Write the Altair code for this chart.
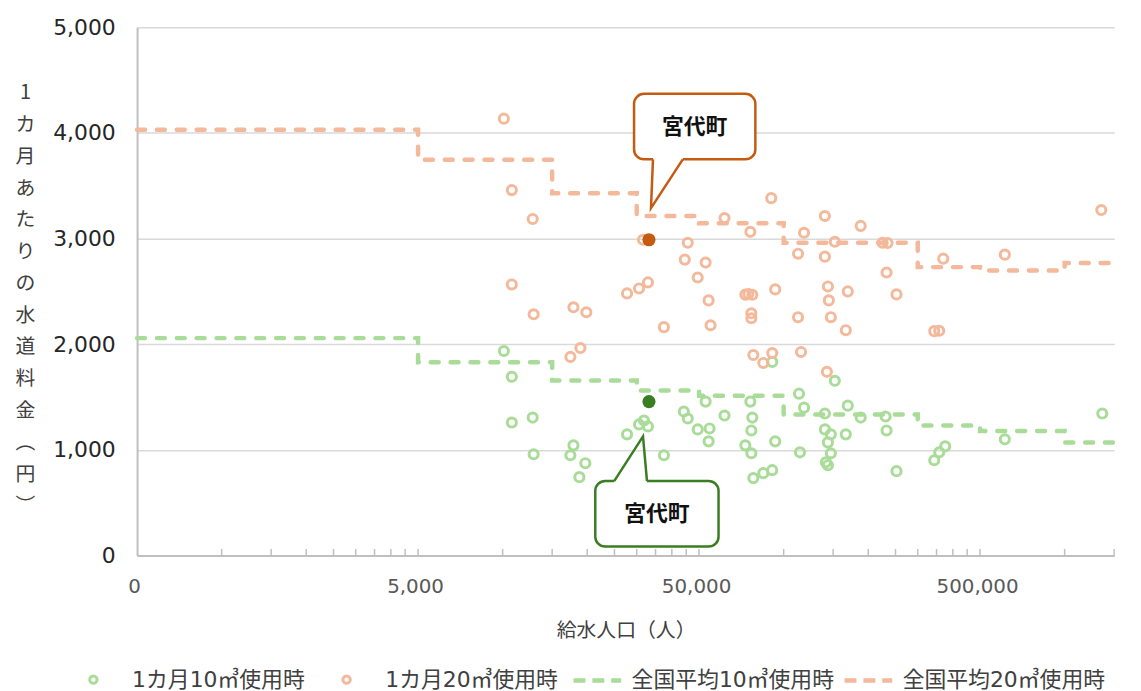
import altair as alt
import pandas as pd

# ---- data ----
S10 = "1カ月10㎥使用時"
S20 = "1カ月20㎥使用時"
A10 = "全国平均10㎥使用時"
A20 = "全国平均20㎥使用時"

pop10 = [10100, 10780, 10780, 12790, 12890, 17860, 17420, 19690, 18750, 27710,
         30570, 31840, 32890, 37480, 44120, 45580, 49440, 52760, 54500, 54070,
         61600, 76110, 77360, 76740, 93300, 73060, 76740, 78000, 84630, 91060,
         91060, 152100, 113400, 118200, 169100, 140200, 188000, 230500, 232400, 140200,
         147200, 166400, 143700, 147200, 141400, 143700, 114300, 252100, 343500, 357800,
         375700, 612500, 1361000]
fee10 = [1936, 1692, 1259, 1306, 959, 1043, 949, 874, 742, 1147,
         1241, 1278, 1222, 949, 1363, 1297, 1194, 1457, 1203, 1081,
         1325, 1457, 1306, 1184, 1081, 1043, 968, 733, 780, 808,
         1833, 1654, 1532, 1400, 1419, 1344, 1306, 1316, 1184, 1194,
         1147, 1147, 1071, 968, 883, 855, 977, 799, 902, 977,
         1034, 1100, 1344]

pop20 = [10100, 10780, 12790, 10780, 12890, 17860, 19850, 17420, 18910, 27710,
         30570, 32890, 31580, 37480, 45580, 44480, 52760, 49440, 54070, 54940,
         61600, 76110, 90320, 73060, 74880, 77360, 76740, 76740, 93300, 78000,
         84630, 91060, 112500, 112500, 115300, 118200, 140200, 140200, 143700, 144800,
         147200, 166400, 169100, 142500, 152100, 188000, 224900, 234300, 232400, 252100,
         369700, 343500, 357800, 612500, 1350000]
fee20 = [4135, 3459, 3186, 2566, 2284, 2350, 2303, 1880, 1964, 2481,
         2528, 2585, 2989, 2162, 2961, 2801, 2773, 2632, 2415, 2180,
         3195, 3064, 3383, 2470, 2475, 2468, 2293, 2246, 2519, 1898,
         1823, 1917, 2857, 2256, 1927, 3055, 3214, 2829, 2547, 2415,
         2256, 2133, 2500, 1739, 2970, 3120, 2961, 2958, 2679, 2472,
         2810, 2124, 2128, 2848, 3271]

# national average by supply-population class (step lines)
class_bounds = [500, 5000, 15000, 30000, 50000, 100000, 300000, 500000, 1000000, 1500000]
avg10 = [2058, 1830, 1657, 1563, 1513, 1335, 1231, 1178, 1069, 1069]
avg20 = [4030, 3747, 3430, 3214, 3145, 2960, 2730, 2697, 2770, 2770]

# 宮代町
miyashiro_pop = 33160
miyashiro_fee10 = 1457
miyashiro_fee20 = 2989
town_name = "宮代町"

# callout anchors (data units): box x1, x2, y1, y2 ; pointer base-left, tip, base-right
orange_box = [29350, 79300, 3750, 4370]
orange_ptr_pop = [34270, 33720, 43750]
orange_ptr_fee = [3750, 3289, 3750]
orange_text = [48240, 4060]
green_box = [21360, 58650, 85, 705]
green_ptr_pop = [24940, 31580, 32630]
green_ptr_fee = [705, 1128, 705]
green_text = [35400, 390]

x_ticks = [500, 5000, 50000, 500000]
minor_ticks = [1000, 1500, 2000, 2500, 3000, 3500, 4000, 4500, 5000,
               10000, 15000, 20000, 25000, 30000, 35000, 40000, 45000, 50000,
               100000, 150000, 200000, 250000, 300000, 350000, 400000, 450000, 500000,
               1000000, 1500000]
y_ticks = [0, 1000, 2000, 3000, 4000, 5000]
y_title = list("1カ月あたりの水道料金") + ["︵", "円", "︶"]

# ---- styles ----
GREEN = "#a9dc98"
ORANGE = "#f4b89b"
DARK_GREEN = "#3a7d22"
DARK_ORANGE = "#c55a11"
JP = "Noto Sans CJK JP"
NUM = "DejaVu Sans"
MIX = "DejaVu Sans, Noto Sans CJK JP"

pts = pd.DataFrame({
    "pop": pop10 + pop20,
    "fee": fee10 + fee20,
    "series": [S10] * len(pop10) + [S20] * len(pop20),
})
avg = pd.DataFrame({
    "pop": class_bounds + class_bounds,
    "fee": avg10 + avg20,
    "series": [A10] * len(class_bounds) + [A20] * len(class_bounds),
})
hl = pd.DataFrame({"pop": [miyashiro_pop, miyashiro_pop],
                   "fee": [miyashiro_fee10, miyashiro_fee20],
                   "k": ["g", "o"]})
ticks_df = pd.DataFrame({"pop": minor_ticks, "fee": [0] * len(minor_ticks), "fee2": [62] * len(minor_ticks)})

xscale = alt.Scale(type="log", domain=[500, 1500000], nice=False)
yscale = alt.Scale(domain=[0, 5000], nice=False, zero=True)

xaxis = alt.Axis(
    values=x_ticks,
    labelExpr="datum.value == 500 ? '0' : format(datum.value, ',')",
    title="給水人口（人）", ticks=False, grid=False,
    domainColor="#bfbfbf", domainWidth=2,
    labelFont=NUM, labelFontSize=20, labelColor="#595959", labelPadding=21,
    labelFlush=False, labelOverlap=False, labelOffset=-3,
    titleFont=JP, titleFontSize=20, titleFontWeight="normal", titleColor="#404040",
    titleY=76, titleBaseline="middle",
)
yaxis = alt.Axis(
    values=y_ticks, labelExpr="format(datum.value, ',')", ticks=False, grid=True,
    gridColor="#d9d9d9", gridWidth=1.5,
    domainColor="#bfbfbf", domainWidth=2,
    labelFont=NUM, labelFontSize=22, labelColor="#262626", labelPadding=22,
    title=y_title, titleAngle=0, titleX=-113, titleY=56, titleAlign="center",
    titleBaseline="top", titleLineHeight=32, titleFont=JP, titleFontSize=20,
    titleFontWeight="normal", titleColor="#404040",
)


def X(field):
    return alt.X(f"{field}:Q", scale=xscale, axis=xaxis)


def Y(field):
    return alt.Y(f"{field}:Q", scale=yscale, axis=yaxis)


lines = alt.Chart(avg).mark_line(
    interpolate="step-after", strokeWidth=4.5, strokeDash=[8, 12], strokeCap="round"
).encode(
    x=X("pop"), y=Y("fee"),
    color=alt.Color("series:N",
                    scale=alt.Scale(domain=[A10, A20], range=[GREEN, ORANGE]),
                    legend=alt.Legend(title=None, orient="none", legendX=437, legendY=631,
                                      direction="horizontal", symbolType="stroke",
                                      symbolSize=2304, symbolStrokeWidth=4.5,
                                      symbolDash=[12, 7], labelOffset=8, columnPadding=1,
                                      labelLimit=0,
                                      labelFont=MIX, labelFontSize=22, labelColor="#404040")),
    detail="series:N",
)

points = alt.Chart(pts).mark_point(
    shape="circle", filled=False, size=85, strokeWidth=3, opacity=1
).encode(
    x=X("pop"), y=Y("fee"),
    color=alt.Color("series:N",
                    scale=alt.Scale(domain=[S10, S20], range=[GREEN, ORANGE]),
                    legend=alt.Legend(title=None, orient="none", legendX=-55, legendY=646,
                                      direction="horizontal", symbolType="circle",
                                      symbolSize=55, symbolStrokeWidth=3,
                                      labelOffset=28, columnPadding=31, labelLimit=0,
                                      labelFont=MIX, labelFontSize=22, labelColor="#404040")),
)

hl_g = alt.Chart(hl[hl.k == "g"]).mark_circle(size=175, opacity=1, color=DARK_GREEN).encode(
    x=X("pop"), y=Y("fee"))
hl_o = alt.Chart(hl[hl.k == "o"]).mark_circle(size=175, opacity=1, color=DARK_ORANGE).encode(
    x=X("pop"), y=Y("fee"))

minor = alt.Chart(ticks_df).mark_rule(color="#bfbfbf", strokeWidth=1.5).encode(
    x=X("pop"), y=Y("fee"), y2="fee2")


def callout(box, ptr_pop, ptr_fee, txt, col):
    bdf = pd.DataFrame({"pop": [box[0]], "pop2": [box[1]], "fee": [box[2]], "fee2": [box[3]]})
    rect = alt.Chart(bdf).mark_rect(fill="white", stroke=col, strokeWidth=2.5,
                                    cornerRadius=10).encode(
        x=X("pop"), x2="pop2", y=Y("fee"), y2="fee2")
    cover = alt.Chart(pd.DataFrame({"pop": [ptr_pop[0]], "pop2": [ptr_pop[2]], "fee": [ptr_fee[0]]})
                      ).mark_rule(color="white", strokeWidth=5).encode(
        x=X("pop"), x2="pop2", y=Y("fee"))
    pdf = pd.DataFrame({"pop": ptr_pop, "fee": ptr_fee, "o": [0, 1, 2]})
    ptr = alt.Chart(pdf).mark_line(color=col, strokeWidth=2.5, strokeJoin="miter").encode(
        x=X("pop"), y=Y("fee"), order="o:Q")
    tdf = pd.DataFrame({"pop": [txt[0]], "fee": [txt[1]], "t": [town_name]})
    text = alt.Chart(tdf).mark_text(font=JP, fontSize=22, fontWeight="bold", color="#111111",
                                    baseline="middle", align="center").encode(
        x=X("pop"), y=Y("fee"), text="t:N")
    return [rect, cover, ptr, text]


layers = [lines, points, hl_g, hl_o, minor]
layers += callout(orange_box, orange_ptr_pop, orange_ptr_fee, orange_text, DARK_ORANGE)
layers += callout(green_box, green_ptr_pop, green_ptr_fee, green_text, DARK_GREEN)

chart = alt.layer(*layers).resolve_scale(color="independent").properties(
    width=984, height=532,
    padding={"left": 130, "top": 17, "right": 19, "bottom": 136},
    autosize=alt.AutoSizeParams(type="none"),
    background="white",
).configure_view(stroke=None)

chart.save("out.html", embed_options={"renderer": "svg", "actions": False})
